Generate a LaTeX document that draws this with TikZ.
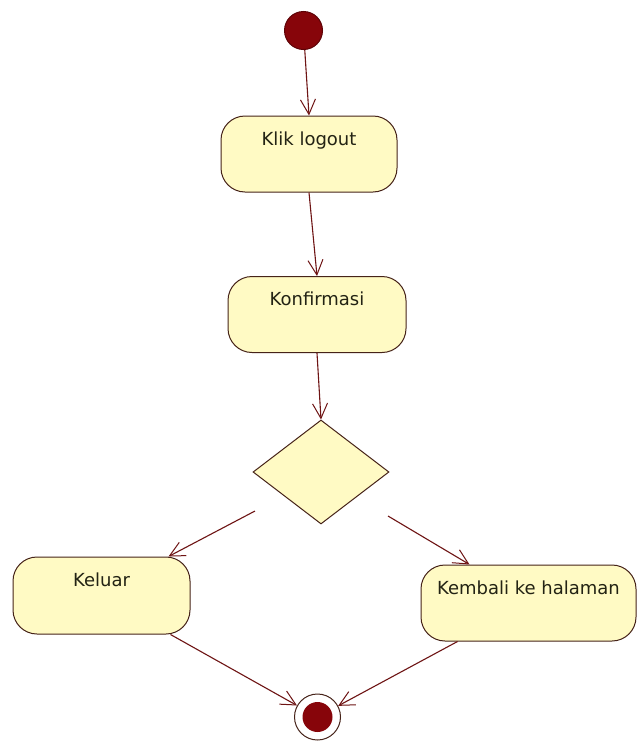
\documentclass[tikz,border=0pt]{standalone}
\usepackage{fontspec}
\setmainfont{DejaVu Sans}
\usetikzlibrary{arrows.meta,shapes.geometric}

\begin{document}
\begin{tikzpicture}[x=1pt,y=-1pt, line width=1pt,
    aktivitas/.style={
                rectangle,
                rounded corners=24pt,
                draw=garis,
                fill=isian,
                inner sep=0pt,
                text height=29pt,
                text depth=47pt,
                font=\fontsize{18}{20}\selectfont,
                text=teks
              },
    alur/.style={draw=panah, line width=1.1pt, -{Straight Barb[length=15pt,width=15pt,line width=1pt]}}]
    % Define colors
    \definecolor{isian}{RGB}{255, 250, 196}
    \definecolor{garis}{RGB}{70, 35, 25}
    \definecolor{panah}{RGB}{110, 20, 20}
    \definecolor{bulat}{RGB}{135, 5, 10}
    \definecolor{teks}{RGB}{35, 35, 20}

    \useasboundingbox[fill=white] (0,0) rectangle (638,742);

    \node[circle, fill=bulat, draw=bulat!70!black, minimum size=38pt, inner sep=0pt] (mulai) at (303.5, 30.5) {};
    \node[aktivitas, minimum width=176pt] (klik) at (309, 154) {Klik logout};
    \node[aktivitas, minimum width=178pt] (konfirmasi) at (317, 314.5) {Konfirmasi};
    \node[diamond, draw=garis, fill=isian, minimum width=136pt, minimum height=104pt, inner sep=0pt] (keputusan) at (321, 472) {};
    \node[aktivitas, minimum width=177pt, minimum height=77pt] (keluar) at (101.5, 595.5) {Keluar};
    \node[aktivitas, minimum width=215pt] (kembali) at (528.5, 603) {Kembali ke halaman};
    \node[circle, draw=garis, fill=white, minimum size=46pt, inner sep=0pt] (akhir) at (317.5, 717) {};
    \fill[bulat] (akhir) circle (15);

    % branch starts
    \coordinate (cabangkiri) at (255, 511);
    \coordinate (cabangkanan) at (388, 516);

    \draw[alur] (mulai) -- (klik.north);
    \draw[alur] (klik.south) -- (konfirmasi.north);
    \draw[alur] (konfirmasi.south) -- (keputusan.north);
    \draw[alur] (cabangkiri) -- ([xshift=-22pt]keluar.north east);
    \draw[alur] (cabangkanan) -- ([xshift=49pt]kembali.north west);
    \draw[alur] ([xshift=-20pt]keluar.south east) -- (akhir);
    \draw[alur] ([xshift=37pt]kembali.south west) -- (akhir);

\end{tikzpicture}
\end{document}
